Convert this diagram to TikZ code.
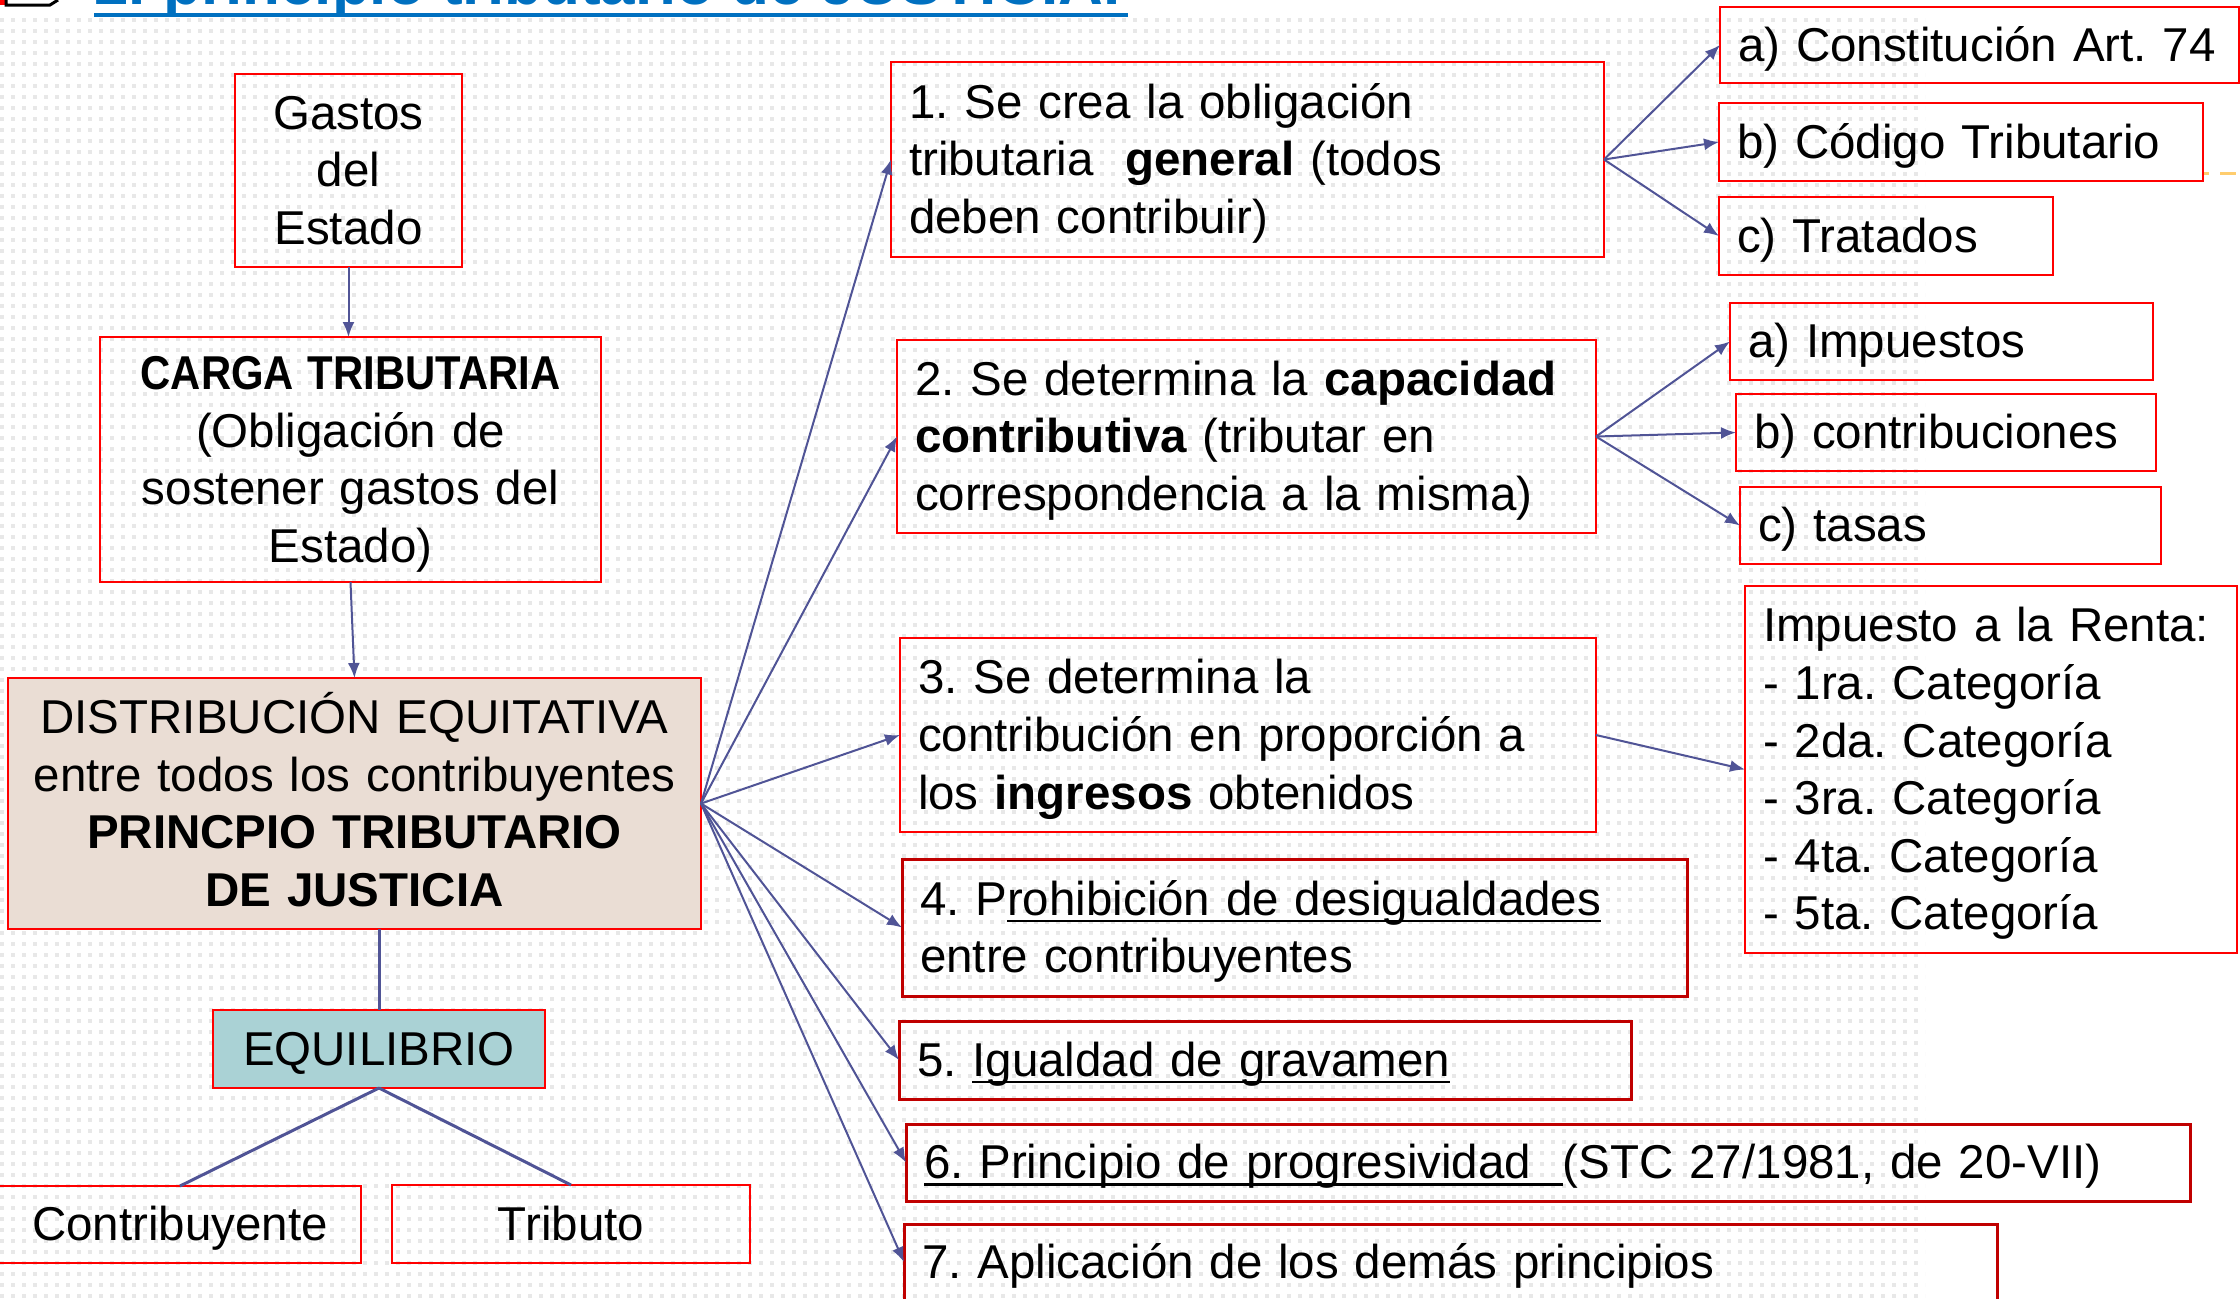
\documentclass[tikz,border=0pt]{standalone}
\usepackage{fontspec}
\usepackage{graphicx}
\setmainfont{Liberation Sans}
\usetikzlibrary{arrows.meta,patterns}
\definecolor{redA}{RGB}{255,0,0}
\definecolor{darkredA}{RGB}{192,0,0}
\definecolor{lineC}{RGB}{80,84,150}
\definecolor{beigeA}{RGB}{234,221,212}
\definecolor{tealA}{RGB}{170,210,213}
\definecolor{titleblue}{RGB}{0,112,192}
\definecolor{orangeL}{RGB}{255,205,110}
\newcommand\msz{\fontsize{23.75pt}{28.8pt}\selectfont}
\newcommand\tst{\rule[-0.212em]{0pt}{1.117em}}
\newsavebox\myulbox
\newcommand\myul[1]{\sbox\myulbox{#1}\rlap{\rule[-3.5pt]{\wd\myulbox}{1.3pt}}\usebox\myulbox}
\pgfdeclarepatternformonly{bgdots}{\pgfqpoint{0pt}{0pt}}{\pgfqpoint{2pt}{2pt}}{\pgfqpoint{5.5pt}{5.5pt}}{\pgfpathrectangle{\pgfqpoint{0pt}{0pt}}{\pgfqpoint{2pt}{2pt}}\pgfusepath{fill}}
\frenchspacing
\begin{document}
\frenchspacing
\begin{tikzpicture}[x=0.5pt,y=-0.5pt,
  rbox/.style={draw=redA, line width=1pt, inner xsep=9pt, inner ysep=0pt, outer sep=0pt, font=\msz, anchor=north west,
    execute at begin node=\tst, execute at end node=\tst},
  dbox/.style={rbox, draw=darkredA, line width=1.5pt},
  lft/.style={text width=#1, align=left},
  ctr/.style={text width=#1, align=center},
  conn/.style={draw=lineC, line width=1pt, -{Latex[length=7.5pt,width=6pt]}},
  thick conn/.style={draw=lineC, line width=1.5pt}]
\useasboundingbox (0,0) rectangle (2240,1298);
\clip (0,0) rectangle (2240,1298);
\fill[white] (0,0) rectangle (2240,1298);
\fill[pattern=bgdots, pattern color=black!9] (0,17) rectangle (1925,1298);
% title (cut off at the top)
\node[anchor=base west, inner sep=0pt, text=titleblue, font=\fontsize{31pt}{36pt}\selectfont\bfseries] (title) at (94,4) {2. principio tributario de JUSTICIA.};
\draw[titleblue, line width=1.75pt] (94,15) -- (1128,15);
\fill[redA] (0,0) rectangle (5,5);
\draw[black, line width=1.5pt] (6,0) -- (6,5) -- (50,5) -- (58,0);
\draw[orangeL, line width=1.5pt, dash pattern=on 2.5pt off 5.5pt on 8pt off 20pt] (2204,173) -- (2240,173);
% left column
\node[rbox, ctr=95.5pt, minimum height=96.5pt] (gastos) at (235,74) {Gastos\\del\\Estado};
\node[rbox, ctr=232.5pt, minimum height=122.5pt] (carga) at (100,337) {\scalebox{0.88}[1]{\textbf{CARGA TRIBUTARIA}}\\(Obligación de\\sostener gastos del\\Estado)};
\node[rbox, fill=beigeA, ctr=328.5pt, minimum height=125.5pt] (distrib) at (8,678) {DISTRIBUCIÓN EQUITATIVA\\entre todos los contribuyentes\\\textbf{PRINCPIO TRIBUTARIO}\\\textbf{DE JUSTICIA}};
\node[rbox, fill=tealA, align=center, minimum width=166pt, minimum height=39pt] (equil) at (213,1010) {EQUILIBRIO};
\node[rbox, align=center, minimum width=181pt, minimum height=38.5pt] (contrib) at (-1,1186) {Contribuyente};
\node[rbox, align=center, minimum width=179pt, minimum height=39pt] (tributo) at (392,1185) {Tributo};
% middle column
\node[rbox, lft=338.5pt, minimum height=97.5pt] (b1) at (891,62) {1. Se crea la obligación\\tributaria~ \textbf{general} (todos\\deben contribuir)};
\node[rbox, lft=331.5pt, minimum height=96.5pt] (b2) at (897,340) {2. Se determina la \textbf{capacidad}\\\textbf{contributiva} (tributar en\\correspondencia a la misma)};
\node[rbox, lft=330pt, minimum height=97pt] (b3) at (900,638) {3. Se determina la\\contribución en proporción a\\los \textbf{ingresos} obtenidos};
\node[dbox, lft=374.5pt, minimum height=68.5pt] (b4) at (902,859) {4. P\myul{rohibición de desigualdades}\\entre contribuyentes};
\node[dbox, lft=348pt, minimum height=39pt] (b5) at (899,1021) {\mbox{5. \myul{Igualdad de gravamen}}};
\node[dbox, lft=624pt, minimum height=38.5pt] (b6) at (906,1124) {\mbox{\myul{6. Principio de progresividad~~}(STC 27/1981, de 20-VII)}};
\node[dbox, lft=528.5pt, minimum height=38pt] (b7) at (904,1224) {\mbox{7. Aplicación de los demás principios}};
% right column
\node[rbox, lft=241.5pt, minimum height=38pt] (ca) at (1720,7) {\mbox{a) Constitución Art. 74}};
\node[rbox, lft=224pt, minimum height=39pt] (cb) at (1719,103) {\mbox{b) Código Tributario}};
\node[rbox, lft=149pt, minimum height=39pt] (cc) at (1719,197) {\mbox{c) Tratados}};
\node[rbox, lft=193.5pt, minimum height=38.5pt] (ia) at (1730,303) {\mbox{a) Impuestos}};
\node[rbox, lft=192pt, minimum height=38.5pt] (ib) at (1736,394) {\mbox{b) contribuciones}};
\node[rbox, lft=192.5pt, minimum height=38.5pt] (ic) at (1740,487) {\mbox{c) tasas}};
\node[rbox, lft=228pt, minimum height=183.5pt] (renta) at (1745,586) {Impuesto a la Renta:\\- 1ra. Categoría\\- 2da. Categoría\\- 3ra. Categoría\\- 4ta. Categoría\\- 5ta. Categoría};
% connectors
\draw[conn] (gastos.south) -- (gastos.south |- carga.north);
\draw[conn] (carga.south) -- (distrib.north);
\draw[thick conn] (equil.north) -- (equil.north |- distrib.south);
\draw[thick conn] (equil.south) -- (contrib.north);
\draw[thick conn] (equil.south) -- (tributo.north);
\foreach \t in {b1,b2,b3,b4,b5,b6,b7} \draw[conn] (distrib.east) -- (\t.west);
\foreach \t in {ca,cb,cc} \draw[conn] (b1.east) -- (\t.west);
\foreach \t in {ia,ib,ic} \draw[conn] (b2.east) -- (\t.west);
\draw[conn] (b3.east) -- (renta.west);
\end{tikzpicture}
\end{document}
